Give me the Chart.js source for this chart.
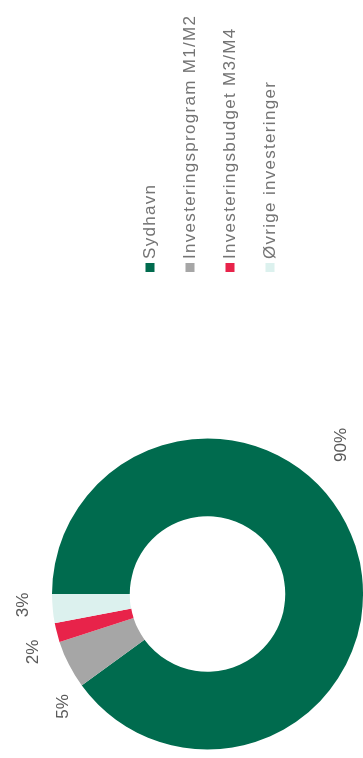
<!DOCTYPE html>
<html>
<head>
<meta charset="utf-8">
<script src="https://cdn.jsdelivr.net/npm/chart.js@4.4.1/dist/chart.umd.min.js"></script>
<style>
  html, body { margin: 0; padding: 0; background: #fff; overflow: hidden; }
  /* the chart is laid out landscape and turned a quarter turn */
  #wrap {
    position: absolute; left: 0; top: 0;
    width: 758px; height: 363px;
    transform-origin: 0 0;
    transform: translateY(758px) rotate(-90deg);
  }
</style>
</head>
<body>
<div id="wrap"><canvas id="chart" width="758" height="363"></canvas></div>
<script>
// DATA
const labels = ["Sydhavn", "Investeringsprogram M1/M2", "Investeringsbudget M3/M4", "Øvrige investeringer"];
const shares = [90, 5, 2, 3];
const colors = ["#006b4e", "#a6a6a6", "#e8234a", "#dcf1ee"];

// percent labels: shift from slice middle (deg) and distance outside the ring (px)
const labelShift = [-30, -11, -4, 2];
const labelGap = [45, 27, 28, 29];

const FONT = '"Liberation Sans", Arial, sans-serif';

// percent labels around the ring
const pctLabels = {
    id: 'pctLabels',
    afterDatasetsDraw(chart) {
        const ctx = chart.ctx;
        const meta = chart.getDatasetMeta(0);
        ctx.save();
        ctx.font = '17px ' + FONT;
        ctx.fillStyle = '#5a5a5a';
        ctx.textAlign = 'center';
        ctx.textBaseline = 'middle';
        meta.data.forEach((arc, i) => {
            const p = arc.getProps(['x', 'y', 'startAngle', 'endAngle', 'outerRadius'], true);
            const a = (p.startAngle + p.endAngle) / 2 + labelShift[i] * Math.PI / 180;
            const r = p.outerRadius + labelGap[i];
            ctx.fillText(shares[i] + '%', p.x + Math.cos(a) * r, p.y + Math.sin(a) * r);
        });
        ctx.restore();
    }
};

// legend to the right of the ring
const sideLegend = {
    id: 'sideLegend',
    afterDraw(chart) {
        const ctx = chart.ctx;
        const left = 486, top = 150, step = 40, box = 9;
        ctx.save();
        ctx.font = '17px ' + FONT;
        ctx.letterSpacing = '1.3px';
        ctx.textBaseline = 'middle';
        labels.forEach((txt, i) => {
            const y = top + i * step;
            ctx.fillStyle = colors[i];
            ctx.fillRect(left, y - box / 2, box, box);
            ctx.fillStyle = '#747474';
            ctx.fillText(txt, left + box + 4, y);
        });
        ctx.restore();
    }
};

new Chart(document.getElementById('chart'), {
    type: 'doughnut',
    data: {
        labels: labels,
        datasets: [{
            data: shares,
            backgroundColor: colors,
            borderWidth: 0,
            hoverOffset: 0,
            offset: 0
        }]
    },
    options: {
        responsive: false,
        animation: false,
        cutout: '50%',
        layout: { padding: { left: 4, top: 52, right: 434, bottom: 0 } },
        plugins: {
            legend: { display: false },
            tooltip: { enabled: false }
        }
    },
    plugins: [pctLabels, sideLegend]
});
</script>
</body>
</html>
